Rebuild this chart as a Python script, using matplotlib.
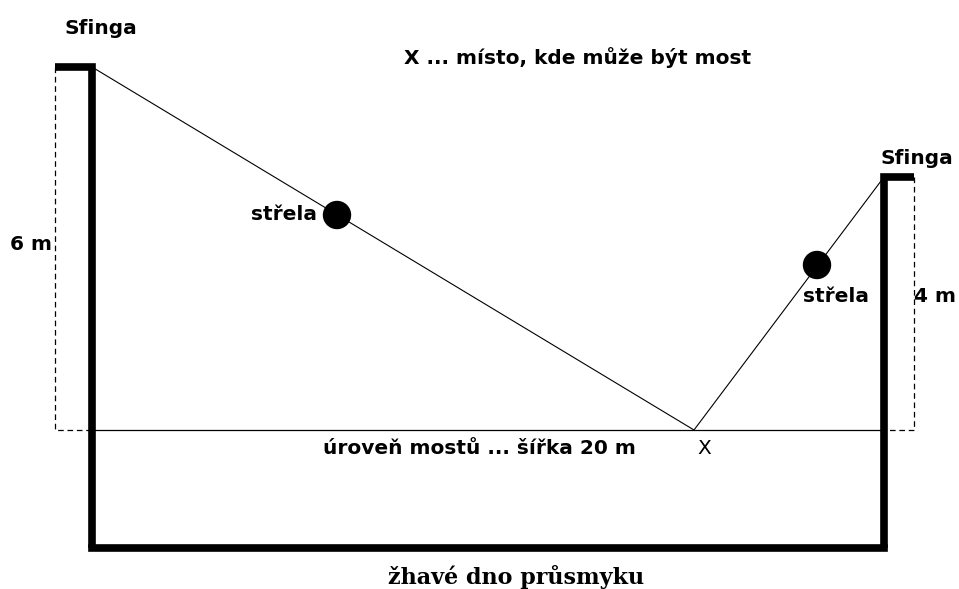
import matplotlib.pyplot as plt
import matplotlib.patches as mpatches

# geometry in pixel-like units (origin top-left)
left_wall_x = [55, 92, 92]
left_wall_y = [67, 67, 548]
right_wall_x = [914, 884, 884]
right_wall_y = [177, 177, 548]
floor_x = [92, 884]
floor_y = [548, 548]
level_x = [92, 884]
level_y = [430, 430]
left_dash_x = [55, 55, 92]
left_dash_y = [67, 430, 430]
right_dash_x = [914, 914, 884]
right_dash_y = [177, 430, 430]
path_x = [92, 694, 884]
path_y = [67, 430, 177]
balls_x = [337, 817]
balls_y = [215, 265]
ball_r = 13.5

labels = [
    ("Sfinga", 101, 28, "center", "bold"),
    ("Sfinga", 917, 158, "center", "bold"),
    ("X ... místo, kde může být most", 578, 58, "center", "bold"),
    ("střela", 317, 215, "right", "bold"),
    ("6 m", 52, 245, "right", "bold"),
    ("střela", 836, 296, "center", "bold"),
    ("4 m", 935, 296, "center", "bold"),
    ("úroveň mostů ... šířka 20 m", 479, 448, "center", "bold"),
    ("X", 704, 448, "center", "normal"),
]

fig = plt.figure(figsize=(9.59, 5.89), dpi=100)
ax = fig.add_axes([0, 0, 1, 1])
ax.set_xlim(0, 959)
ax.set_ylim(589, 0)
ax.axis("off")

ax.plot(left_wall_x, left_wall_y, color="black", lw=5.5, solid_capstyle="butt", solid_joinstyle="miter")
ax.plot(right_wall_x, right_wall_y, color="black", lw=5.5, solid_capstyle="butt", solid_joinstyle="miter")
ax.plot(floor_x, floor_y, color="black", lw=5.5, solid_capstyle="projecting")
ax.plot(level_x, level_y, color="black", lw=0.9)
ax.plot(left_dash_x, left_dash_y, color="black", lw=0.9, ls=(0, (4.5, 3)))
ax.plot(right_dash_x, right_dash_y, color="black", lw=0.9, ls=(0, (4.5, 3)))
ax.plot(path_x, path_y, color="black", lw=0.8)
for bx, by in zip(balls_x, balls_y):
    ax.add_patch(mpatches.Circle((bx, by), ball_r, color="black"))

for txt, x, y, ha, wt in labels:
    ax.text(x, y, txt, ha=ha, va="center", fontsize=14.5, fontweight=wt,
            family="DejaVu Sans", color="black")

ax.text(516, 577, "žhavé dno průsmyku", ha="center", va="center", fontsize=16,
        fontweight="bold", family="DejaVu Serif", color="black")

fig.savefig("out.png", dpi=100)
